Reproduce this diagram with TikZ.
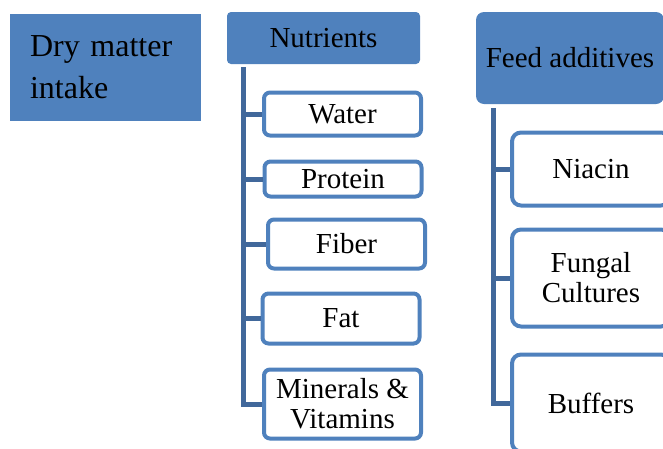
\documentclass[tikz,border=0pt]{standalone}
\usepackage{fontspec}
\setmainfont{Liberation Serif}
\usetikzlibrary{positioning}
\definecolor{hdblue}{HTML}{4F81BD}
\definecolor{lnblue}{HTML}{41689B}

\begin{document}
\begin{tikzpicture}[x=1pt,y=-1pt]
\tikzstyle{every node}+=[inner sep=0pt, font=\fontsize{29}{30}\selectfont]
\tikzstyle{head}=[fill=hdblue, draw=none, rounded corners=4pt, align=center]
\tikzstyle{item}=[draw=hdblue, line width=4pt, fill=white, rounded corners=6pt,
  minimum width=157pt, align=center]
\tikzstyle{conn}=[draw=lnblue, line width=5pt]
\useasboundingbox (0,0) rectangle (663,448);
\clip (0,0) rectangle (663,448);
\node [fill=hdblue, minimum width=191pt, minimum height=107pt, text width=151pt,
  align=left, font=\fontsize{32}{42}\selectfont] (dmi) at (105.5,67.5) {Dry matter\\intake};
\node [head, minimum width=193pt, minimum height=52pt] (nut) at (323.5,38) {Nutrients};
\node [item, minimum height=43pt] (water) at (342.5,114) {Water};
\node [item, minimum height=35pt] (prot) at (343,179) {Protein};
\node [item, minimum height=49pt] (fiber) at (346.5,244) {Fiber};
\node [item, minimum height=50pt] (fat) at (341,318.5) {Fat};
\node [item, minimum height=69pt] (minvit) at (342.5,404) {Minerals \&\\Vitamins};
\node [head, rounded corners=8pt, minimum width=188pt, minimum height=92pt] (feed) at (570,58) {Feed additives};
\node [item, rounded corners=9pt, minimum width=158pt, minimum height=73pt] (niacin) at (591,169) {Niacin};
\node [item, rounded corners=9pt, minimum width=158pt, minimum height=97pt] (fungal) at (591,278) {Fungal\\Cultures};
\node [item, rounded corners=9pt, minimum width=158pt, minimum height=97pt] (buff) at (591,403) {Buffers};
\coordinate (nuttop) at (243,67);
\coordinate (feedtop) at (493,108);
\draw [conn] (nuttop) |- (minvit.west);
\draw [conn] (nuttop |- water.west) -- (water.west);
\draw [conn] (nuttop |- prot.west) -- (prot.west);
\draw [conn] (nuttop |- fiber.west) -- (fiber.west);
\draw [conn] (nuttop |- fat.west) -- (fat.west);
\draw [conn] (feedtop) |- (buff.west);
\draw [conn] (feedtop |- niacin.west) -- (niacin.west);
\draw [conn] (feedtop |- fungal.west) -- (fungal.west);
\end{tikzpicture}
\end{document}
